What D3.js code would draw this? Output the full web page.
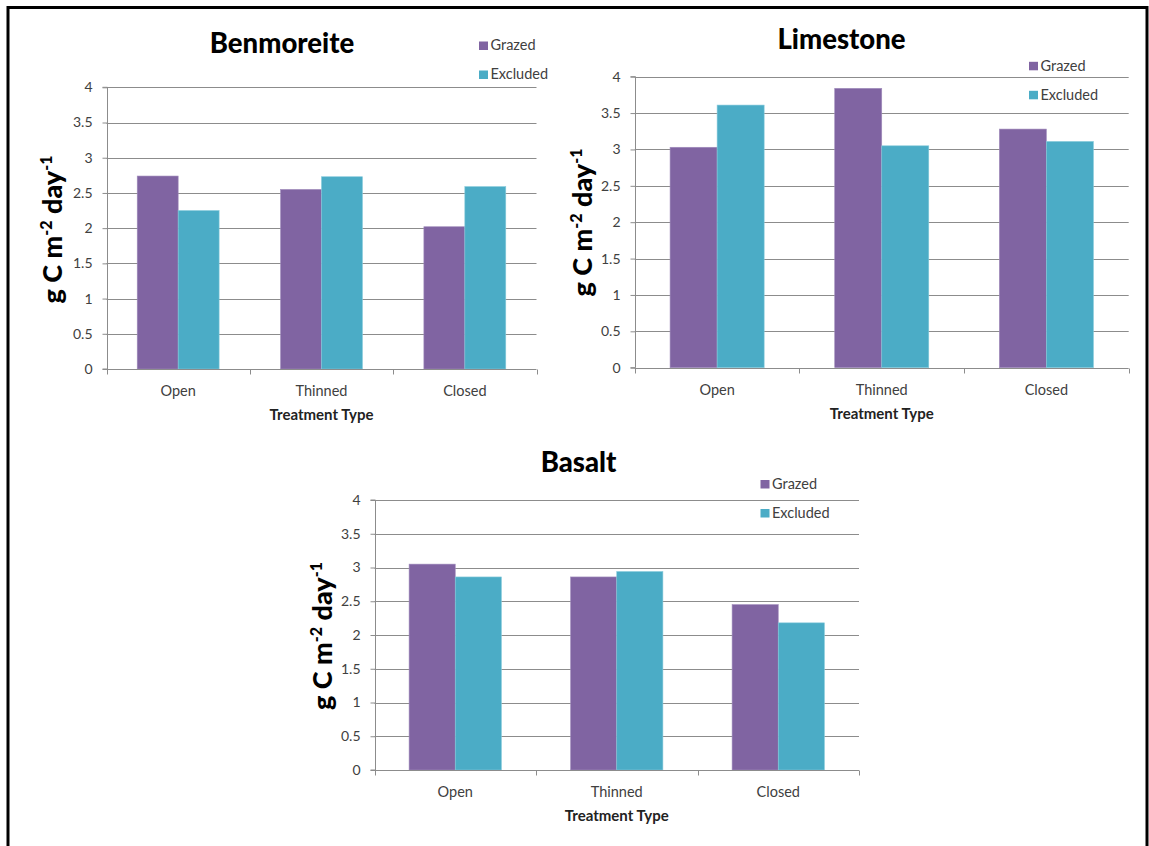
<!DOCTYPE html>
<html>
<head>
<meta charset="utf-8">
<script src="https://cdn.jsdelivr.net/npm/d3@7"></script>
<style>
  html, body { margin: 0; padding: 0; background: #fff; }
  svg { display: block; }
  text { font-family: Lato, "Open Sans", sans-serif; }
</style>
</head>
<body>
<svg id="chart" width="1149" height="846"></svg>
<script>
// Soil respiration by treatment type, grazed vs. excluded plots
const categories = ["Open", "Thinned", "Closed"];
const seriesNames = ["Grazed", "Excluded"];
const yTicks = [0, 0.5, 1, 1.5, 2, 2.5, 3, 3.5, 4];

const benmoreiteGrazed   = [2.74, 2.55, 2.02];
const benmoreiteExcluded = [2.25, 2.73, 2.59];
const limestoneGrazed    = [3.03, 3.84, 3.28];
const limestoneExcluded  = [3.61, 3.05, 3.11];
const basaltGrazed       = [3.05, 2.86, 2.45];
const basaltExcluded     = [2.86, 2.94, 2.18];

const colors = ["#8064A2", "#4BACC6"];

// Panel frames (plot area edges in page pixels)
const panels = [
  { title: "Benmoreite", grazed: benmoreiteGrazed, excluded: benmoreiteExcluded,
    x0: 106.5, x1: 536.5, yTop: 87.3, yBot: 369,
    titleX: 282, titleY: 53, legX: 479, legY: 41.5, ylabX: 62, ylabY: 229.5 },
  { title: "Limestone", grazed: limestoneGrazed, excluded: limestoneExcluded,
    x0: 634.8, x1: 1128.7, yTop: 76.7, yBot: 367.7,
    titleX: 841.5, titleY: 49.3, legX: 1029, legY: 61.8, ylabX: 592, ylabY: 222.5 },
  { title: "Basalt", grazed: basaltGrazed, excluded: basaltExcluded,
    x0: 374.5, x1: 859, yTop: 500, yBot: 770,
    titleX: 578.5, titleY: 471.7, legX: 760.5, legY: 480, ylabX: 331.5, ylabY: 636 }
];

const svg = d3.select("#chart");

// outer frame
svg.append("rect")
  .attr("x", 8).attr("y", 7.5)
  .attr("width", 1139).attr("height", 900)
  .attr("fill", "none").attr("stroke", "#000").attr("stroke-width", 3);

const gridColor = "#8c8c8c";
const labelColor = "#404040";

panels.forEach(p => {
  const g = svg.append("g");

  const x = d3.scaleBand().domain(categories).range([p.x0, p.x1]).paddingInner(0).paddingOuter(0);
  const inner = d3.scaleBand().domain(seriesNames).range([0, x.bandwidth()]).paddingInner(0).paddingOuter(0.75);
  const y = d3.scaleLinear().domain([0, 4]).range([p.yBot, p.yTop]);

  // horizontal gridlines
  g.append("g").selectAll("line").data(yTicks.filter(t => t > 0)).join("line")
    .attr("x1", p.x0).attr("x2", p.x1)
    .attr("y1", d => Math.round(y(d)) + 0.5).attr("y2", d => Math.round(y(d)) + 0.5)
    .attr("stroke", gridColor).attr("stroke-width", 1);

  // bars
  const rows = categories.map((c, i) => ({ cat: c, vals: [p.grazed[i], p.excluded[i]] }));
  g.append("g").selectAll("g").data(rows).join("g")
    .attr("transform", d => `translate(${x(d.cat)},0)`)
    .selectAll("rect").data(d => d.vals.map((v, j) => ({ name: seriesNames[j], v, j }))).join("rect")
      .attr("x", d => inner(d.name))
      .attr("width", inner.bandwidth())
      .attr("y", d => y(d.v))
      .attr("height", d => y(0) - y(d.v))
      .attr("fill", d => colors[d.j])
      .attr("stroke", d => d.j === 0 ? "#a08cbc" : "#86cadb")
      .attr("stroke-width", 0.6);

  // y axis
  const yAxis = d3.axisLeft(y).tickValues(yTicks).tickSize(5).tickPadding(10)
    .tickFormat(d => d3.format("")(d));
  const ya = g.append("g").attr("transform", `translate(${Math.round(p.x0) + 0.5},0)`).call(yAxis);
  ya.select(".domain").attr("stroke", gridColor).attr("d", `M-5,${p.yTop}H0V${p.yBot}H-5`);
  ya.selectAll(".tick line").attr("stroke", gridColor);
  ya.selectAll(".tick text").attr("fill", labelColor).style("font-size", "14px")
    .style("font-family", "Lato, sans-serif");

  // x axis with category-boundary ticks
  const xa = g.append("g").attr("transform", `translate(0,${Math.round(p.yBot) + 0.5})`);
  xa.append("line").attr("x1", p.x0).attr("x2", p.x1).attr("stroke", gridColor);
  const bounds = categories.map(c => x(c)).concat([p.x1]);
  xa.selectAll("line.b").data(bounds).join("line").attr("class", "b")
    .attr("x1", d => Math.round(d) + 0.5).attr("x2", d => Math.round(d) + 0.5)
    .attr("y1", 0).attr("y2", 5).attr("stroke", gridColor);
  xa.selectAll("text").data(categories).join("text")
    .attr("x", d => x(d) + x.bandwidth() / 2).attr("y", 26)
    .attr("text-anchor", "middle").attr("fill", labelColor)
    .style("font-size", "14.5px").text(d => d);

  // axis title
  g.append("text").attr("x", (p.x0 + p.x1) / 2).attr("y", p.yBot + 51)
    .attr("text-anchor", "middle").attr("fill", "#222")
    .style("font-size", "15px").style("font-weight", "bold").text("Treatment Type");

  // chart title
  g.append("text").attr("x", p.titleX).attr("y", p.titleY)
    .attr("text-anchor", "middle").attr("fill", "#000")
    .style("font-size", "27.5px").style("font-weight", "900").text(p.title);

  // y label with superscripts
  const yl = g.append("text")
    .attr("transform", `translate(${p.ylabX},${p.ylabY}) rotate(-90)`)
    .attr("text-anchor", "middle").attr("fill", "#000")
    .style("font-size", "27px").style("font-weight", "900");
  yl.append("tspan").text("g C m");
  yl.append("tspan").attr("dy", -10).style("font-size", "16px").text("-2");
  yl.append("tspan").attr("dy", 10).text(" day");
  yl.append("tspan").attr("dy", -10).style("font-size", "16px").text("-1");

  // legend
  const leg = g.append("g");
  seriesNames.forEach((n, i) => {
    const ly = p.legY + i * 29;
    leg.append("rect").attr("x", p.legX).attr("y", ly).attr("width", 9).attr("height", 8.5)
      .attr("fill", colors[i]);
    leg.append("text").attr("x", p.legX + 11.5).attr("y", ly + 8.7)
      .attr("fill", labelColor).style("font-size", "14.5px").text(n);
  });
});
</script>
</body>
</html>
